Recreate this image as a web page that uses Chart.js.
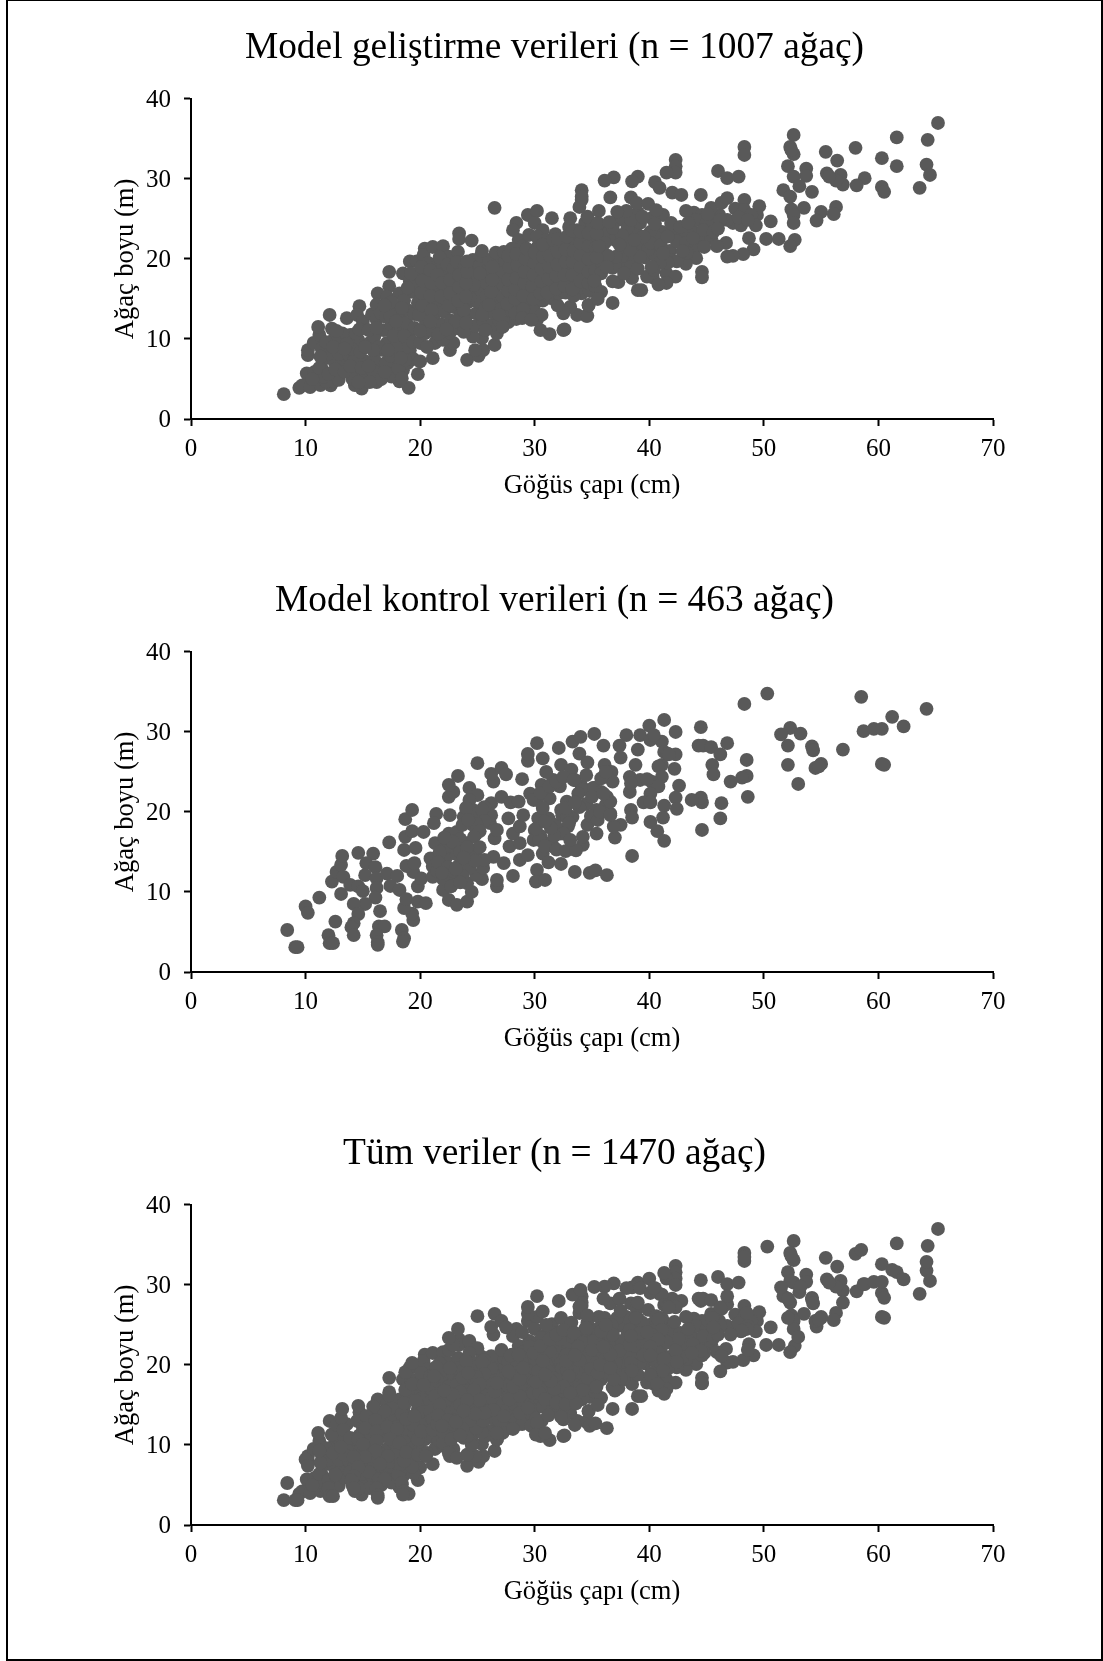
<!DOCTYPE html>
<html lang="tr">
<head>
  <meta charset="UTF-8" />
  <title>Ağaç boyu - göğüs çapı</title>
  <script src="https://cdn.jsdelivr.net/npm/chart.js"></script>
  <style>
    html, body { margin: 0; padding: 0; background: #fff; overflow: hidden; }
    #cerceve {
      position: absolute;
      left: 6px; top: -1px; width: 1093px; height: 1658px;
      border: 2px solid #000;
    }
    canvas { position: absolute; left: 0; display: block; }
  </style>
</head>
<body>
  <div id="cerceve"></div>
  <canvas id="grafik1" width="1103" height="520" style="top:0"></canvas>
  <canvas id="grafik2" width="1103" height="520" style="top:553px"></canvas>
  <canvas id="grafik3" width="1103" height="520" style="top:1106px"></canvas>

  <script>
    // Basliklar
    const titles = [
      'Model geliştirme verileri (n = 1007 ağaç)',
      'Model kontrol verileri (n = 463 ağaç)',
      'Tüm veriler (n = 1470 ağaç)'
    ];
    const xLabel = 'Göğüs çapı (cm)';
    const yLabel = 'Ağaç boyu (m)';
    const xTicks = [0, 10, 20, 30, 40, 50, 60, 70];
    const yTicks = [0, 10, 20, 30, 40];

    // Model gelistirme verileri: [cap, boy]
    const gelistirmeSol = [
      [8.1,3.1],[9.45,3.9],[9.7,4.2],[10.4,4.0],[11.3,4.25],[12.2,4.2],[10.1,5.7],[10.8,5.9],[11.5,6.1],[12.4,4.7],
      [10.2,8],[10.2,8.6],[10.7,9.5],[11.2,10.5],[11.1,11.5],[12.1,13],[12.3,11.3],[11.4,8.8],[11.5,7.4],[13,9.5],
      [13.9,10.5],[14.6,9.9],[13.6,12.6],[14.7,14.1],[14.5,13],[15,12.2],[15.8,13.1],[16.3,15.7],[16.2,14.3],[17.3,18.4],
      [17.3,16.6],[17.1,15.3],[18.2,15.7],[18.5,18.2],[19.1,19.7],[19.7,19.7],[19.3,15.9],[19,3.9],[18.2,4.7],[18.5,6.1],
      [17.5,5.3],[16.2,4.6],[14.9,3.8],[14.3,4.25],[14.5,5.7],[15.3,5.7],[15.2,7.2],[16.5,6.5],[16.8,8.6],[17.1,9.5],
      [15.6,9.5],[16.8,11.1],[17.5,11.75],[16.2,12.4],[16.6,13.2],[18.7,8.2],[19.1,8.6],[18.4,9.25],[18.1,11.1],[18.2,12.8],
      [19.8,5.6],[11,5],[11.8,4.7],[12.8,5.4],[13.1,6.3],[13.4,7],[12.5,7.2],[12.1,8.2],[12.9,8.1],[13.8,8],
      [14.2,7.2],[14,8.8],[14.8,8.4],[13.2,10.7],[12.5,10],[12.7,11],[11.8,9.6],[14.4,10.7],[16,10.3],[16.4,9],
      [16,7.5],[15.9,6],[16.6,5],[17.6,6.8],[17.8,7.8],[17.9,9],[18.9,7],[19.4,7.5],[17.7,10.4],[19,10.5],
      [18.8,12],[19.5,11.4],[18.9,13.6],[19.5,13.1],[19.8,14.5],[17.9,13.7],[17.5,14.6],[17,12.8],[18.6,14.8],[19.1,17.2],
      [19.7,16.6],[19.9,18],[19.2,18.2],[18.9,16.4],[12.9,4.9],[11.6,5.3],[17,7],[17.4,7.9],[18.1,6.3],[14.1,5],
      [10.6,5],[11.2,6.4],[12,5.6],[12.6,6.2],[13.4,5.9],[13.9,6.6],[14.9,6.4],[15.5,6.6],[15.6,4.6],[14.6,4.6],
      [16.9,5.9],[18.4,5.1],[18.7,7.4],[18.3,7.6],[17.2,8.6],[15.9,8.6],[15.2,9],[14.7,11.2],[15.5,11.1],[16.2,11.4],
      [17.4,12.9],[18.6,10.4],[19.4,9.6],[18.4,13.9],[17.9,12.2],[16.9,14.2],[13.6,9.4],[12.4,9],[11.3,7.8],[13.4,8.8]
    ];
    const gelistirmeOrta = [
      [20,7.2],[20,9.5],[20.4,10.7],[20.4,21.3],[20.3,20.5],[21.1,21.5],[22,21.6],[22.5,20.3],[23.3,20.9],[23.4,23.2],
      [23.4,22.5],[24.5,22.3],[26.5,26.4],[24.1,7.4],[25.1,7.9],[25.5,8.6],[24.8,8.6],[26.5,9.25],[26.7,10.7],[25.4,10.1],
      [24.6,10.3],[22.6,8.6],[22.9,9.5],[21.1,7.6],[21.3,9.5],[22,9.9],[28.4,24.5],[28.1,23.6],[28.6,22.4],[29.4,25.5],
      [30.2,26],[30,24.5],[31.5,25.1],[31.8,23.1],[30.7,23.6],[34.1,28.6],[34.1,27.4],[33.9,26.5],[33.1,25.1],[34.1,27.8],
      [33.4,22.4],[32.5,11.1],[31.3,10.6],[30.5,11.1],[30.2,12.4],[34.5,12.9],[33.7,13],[34.7,14.25],[32.5,13.2],[33.1,14],
      [32.6,11.2],[32.5,13.4],[34.6,12.9],[34.1,15.7],[34.7,14.2],
      [20.5,12],[20.3,13.5],[20.6,15],[20.5,16.7],[20.8,18.2],[20.7,19.5],[21,11],[21.2,12.8],[21.4,14.3],[21.5,16],
      [21.6,17.5],[21.4,19],[21.7,20.2],[21.9,11.8],[22.1,13.4],[22.2,15],[22.3,16.6],[22.1,18.2],[22.4,19.3],[22.6,10.8],
      [22.7,12.3],[22.9,14],[23,15.6],[23,17.3],[22.9,18.8],[23.2,19.6],[23.4,11.3],[23.5,12.9],[23.6,14.5],[23.8,16.2],
      [23.7,17.8],[23.9,19.1],[24.1,13],[24.2,14.6],[24.4,15.8],[24.4,17.2],[24.5,18.6],[24.6,19.9],[24.8,11.6],[24.9,13.2],
      [25,14.7],[25.1,16.3],[25.1,17.8],[25.2,19.2],[25.3,20.4],[25.5,12.4],[25.7,13.9],[25.8,15.4],[25.8,17],[25.9,18.5],
      [26,19.9],[26.3,11.8],[26.4,13.3],[26.5,14.9],[26.5,16.4],[26.6,18],[26.7,19.4],[26.6,20.8],[26.9,12.3],[27.1,13.8],
      [27.2,15.3],[27.2,16.9],[27.3,18.3],[27.4,19.8],[27.3,20.9],[27.7,12.1],[27.9,13.5],[27.9,15],[28,16.6],[28,18.2],
      [28.1,19.6],[28,21.3],[28.4,12.5],[28.6,14],[28.7,15.5],[28.7,17],[28.8,18.6],[28.9,20.1],[29,21.6],[29.2,13.3],
      [29.3,14.8],[29.4,16.4],[29.5,18],[29.6,19.5],[29.6,21],[29.5,23],[29.9,13.9],[30,15.4],[30.1,16.9],[30.2,18.5],
      [30.3,20],[30.3,21.6],[30.2,22.8],[30.6,13],[30.7,14.8],[30.8,16.3],[30.9,17.9],[31,19.4],[31,21],[31,22.4],
      [31.4,15.1],[31.5,16.7],[31.6,18.2],[31.6,19.8],[31.7,21.4],[32,14.2],[32.1,15.7],[32.2,17.3],[32.3,18.9],[32.3,20.5],
      [32.4,22],[32.7,15.8],[32.8,17.4],[32.9,19],[33,20.6],[33,24],[33.4,15.4],[33.5,17],[33.6,18.6],[33.7,20.2],
      [33.7,21.8],[33.7,23.6],[34.1,16.5],[34.2,18],[34.3,19.6],[34.4,21.2],[34.3,22.8],[34.4,24.5],[34.8,16],[34.9,17.6],
      [35,19.2],[35,20.8],[35,22.4],[35,24],[34.6,25.3]
    ];
    const gelistirmeYogun = [
      [23.1,12.2],[23.8,13.6],[24.3,15.2],[24.7,16.8],[25.2,18.2],[25.4,13],[26,14.3],[26.2,15.9],[26.3,17.4],[26.3,19],
      [26.9,13],[27.6,14.4],[27.7,16],[27.7,17.4],[27.8,19],[27.7,20.4],[28.3,13.2],[28.3,15],[28.3,16.2],[28.4,17.6],
      [28.5,19.2],[28.4,20.6],[29,13.7],[29,15.4],[29.1,17],[29.1,18.4],[29.2,20],[29.3,21.3],[29.9,15],[29.8,16.6],
      [29.9,18],[30,19.5],[30,20.8],[30.5,15.7],[30.6,17.2],[30.6,18.8],[30.7,20.3],[30.7,21.8],[31.1,15.8],[31.2,17.5],
      [31.3,19],[31.3,20.4],[31.6,22.4],[31.9,16.3],[31.9,17.9],[32,19.3],[32,20.9],[32,22.5],[32.6,16.6],[32.6,18],
      [32.7,19.7],[32.7,21.2],[32.8,22.8],[33.3,16.2],[33.3,18],[33.3,19.6],[33.4,21],[33.3,23.5],[34,17.2],[34,19],
      [34,20.5],[34,22],[34,23.4],[34.7,17],[34.7,18.4],[34.7,20],[34.7,21.6],[34.7,23.2],[35.3,16.6],[35.3,18.6],
      [35.3,21.4],[35.8,23.6],[20,11],[19.9,13],[20.2,14.2],[20.1,15.8],[20.2,17.3],[20.1,19],[21,13.6],[20.9,15.4],
      [21,17],[20.9,18.6],[21.5,18],[21.8,15.3],[21.9,17],[22.5,14.2],[22.6,15.7],[22.6,17.4],[23.3,14.8],[23.4,16.5],
      [23.4,18],[24,15.3],[24,17],[24.1,18.4],[24.1,19.7],[25.4,21],[36.4,23.2],[37,22.4],[37.7,21],[38.1,22.4],
      [38.9,21.6],[39.3,22],[37.5,19.5],[38.6,20],[39.6,20.2],[40.5,20.5],[41.1,23.4],[41.8,21],[42,23.5],[42.5,23],
      [43,23.2],[38.8,23.4],[37.7,25],[39,25.8],[40.2,25.1],[38,25.3],[36,20.8],[36.8,18.9],[35.9,19.4],[37,19.1],
      [20.6,9],[21.6,10.6],[22.3,11.2],[20.9,12.2],[23.8,10.9],[24,12],[25.7,11.1],[27.2,11.5],[28.9,12.6],[29.7,12.4],
      [37.6,20.4],[38.4,19],[39.9,21.2],[40.7,22.6],[41.9,19.9],[43.9,23.4],[44.6,22.7],[45.4,22.6],[46.7,22],[44,21.3],
      [42.9,19.8],[41.5,18.2],[38.5,17.6],[37.3,17.1],[40.3,17.7],[47.3,24.5],[46.1,25.5],[43.9,25.8],[45.5,24.6],[44.3,23]
    ];
    const gelistirmeSag = [
      [65.2,37],[64.3,34.9],[61.6,35.2],[58,33.9],[55.4,33.4],[56.4,32.3],[60.3,32.6],[61.6,31.6],[64.2,31.8],[64.5,30.5],
      [63.6,28.9],[60.3,29],[60.5,28.4],[58.8,30.1],[58.1,29.2],[56.9,29.3],[56.7,30.5],[56.3,29.8],[55.5,30.7],[55.7,30.3],
      [52.6,35.5],[52.3,34],[52.6,33.1],[52.4,33.6],[52.1,31.6],[53.7,31.3],[53.7,30.4],[52.6,30.3],[53.1,29.1],[54.2,28.4],
      [51.7,28.6],[52.3,27.8],[52.4,26.2],[53.5,26.4],[52.6,25.5],[52.6,24.5],[55,25.9],[54.6,24.8],[56.3,26.5],[56.1,25.6],
      [50.6,24.7],[50.2,22.5],[51.3,22.5],[52.7,22.4],[52.3,21.6],[48.3,34],[48.3,33],[46,31],[46.8,30.1],[47.8,30.3],
      [42.3,32.4],[42.3,31.6],[42.3,30.8],[41.5,30.8],[36.9,30.2],[36.1,29.8],[39,30.3],[38.5,29.7],[40.5,29.6],[40.9,28.9],
      [36.6,27.7],[42,28.3],[42.8,28],[44.5,28],[38.4,27.7],[38.9,27],[39.9,26.9],[35.6,26],[43.2,26],[45.4,26.4],
      [46.3,27],[46.8,27.6],[48.3,27.4],[49.6,26.6],[47.5,26.3],[48.3,26.1],[49.4,25.5],[48.9,25.5],[49.3,24.2],[48,24.2],
      [46.8,24.9],[46.2,24.9],[44.6,25.5],[44.1,24.9],[45,24.5],[44.7,23.6],[45.6,23.4],[48.7,22.6],[49.1,21.2],[48.2,20.6],
      [47.3,20.4],[46.8,20.3],[45.9,21.6],[44.8,21.5],[44.1,20.1],[43.2,19.4],[42.4,19.7],[41.6,19.5],[44.6,18.4],[44.6,17.7],
      [42.3,17.8],[41.5,17],[40.8,16.8],[39.8,17.8],[39,16.1],[39.3,16.1],[36.8,14.5],[37.8,18.2],[36.8,17.2],[35.8,15.9],
      [40.1,23.4],[39.2,24.5],[40.1,22],[41.2,25.5],[40.6,26.1],[41.9,24.5],[42.7,24],[43.4,24.5],[42.4,22.2],[43.2,22],
      [40.9,19.5],[40.4,18.6],[39,18.8],[40.2,19],[39.2,20.3],[38.3,21.1],[37.1,20.3],[36.1,22],[37.3,24.9],[38.1,23.9],
      [37.6,23],[36.8,23.9],[38.4,24.9],[38,26],[37.2,25.9],[39.5,22.8],[38.7,22.4],[37.4,21.8],[36.4,20.4],[35.8,18.2],
      [36.3,19],[35.4,20.2],[35.6,21.6],[35.4,23.2],[35.5,24.5],[36.5,24.6],[41,21.7],[41.6,22.8],[41.2,20.7],[40.5,24.4],
      [43.8,22.6],[43.3,20.8],[42.9,21],[45.1,25.6],[39.4,25.3],[46,23.8],[47.8,25.2],[48.6,24.9],[35.2,17.3],[35.5,15]
    ];

    // Model kontrol verileri: [cap, boy]
    const kontrolSol = [
      [8.4,5.25],[9.1,3.1],[9.3,3.1],[10,8.2],[10.2,7.4],[11.2,9.3],[12.6,6.3],[12,4.6],[12.1,3.6],[12.4,3.6],
      [12.3,11.3],[12.7,12.5],[13.1,13.4],[13.2,14.5],[13.3,11.9],[13.1,9.75],[13.9,10.9],[14.6,10.7],[15,10.1],[14.6,14.9],
      [15.9,14.8],[15.3,13.6],[16.1,13.1],[15.2,12.1],[16.2,11.7],[16.2,10.5],[17.1,12.3],[18,12],[17.4,10.75],[18.2,10.25],
      [17.3,16.2],[16.1,9.3],[15.2,8.5],[14.2,8.5],[14.6,7.25],[16.5,7.6],[14.2,6.1],[14,5.6],[14.2,4.6],[16.4,5.7],
      [16.9,5.7],[16.2,4.6],[16.3,3.7],[16.3,3.4],[18.4,5.25],[18.6,4.2],[18.5,3.8],[19.4,6.5],[19.3,7.3],[18.6,8],
      [18.8,9.1],[19.8,8.8],[19.8,10.7],[19.4,12.5],[18.8,13.25],[19.5,13.6],[18.6,15.25],[19.6,15.5],[18.7,16.9],[19.3,17.6],
      [18.7,19.1],[19.3,20.25]
    ];
    const kontrolOrta = [
      [20.5,8.6],[20.1,11.7],[20.3,17.5],[21.4,19.75],[21.2,18.6],[20.9,14.2],[21.3,16.1],[21.1,13.2],[21.1,11.9],[22,13.6],
      [22,15.25],[22.5,17.3],[23.2,17.5],[22.6,19.6],[22.5,21.9],[22.9,22.5],[22.5,23.4],[23.3,24.5],[25,26.1],[24.3,23],
      [25,22.1],[24.3,21.5],[24.6,20.25],[23.8,19.4],[25.2,19],[26.1,18.6],[26.2,19.6],[26.2,21.1],[27.1,21.9],[26.4,23.8],
      [26.2,24.75],[27.1,25.5],[27.5,24.7],[26.5,16.7],[26.7,17.75],[24.9,17.3],[24,16.1],[23.2,15.7],[24.9,15.25],[26.4,14.4],
      [24.2,14.4],[23.3,13.2],[22.3,12.1],[22.9,11.1],[22,10.25],[22.5,9],[23.2,8.4],[24.1,8.8],[24.5,10],[24.1,11.1],
      [25.4,11.6],[24.9,12.1],[25.5,13],[24.3,13],[26.7,10.7],[26.7,11.5],[28.1,12],[27.3,13.6],[28.7,14],[29.4,14.6],
      [27.8,15.7],[28.7,16.1],[28.1,17.3],[28.7,18.2],[27.7,19.2],[29,19.6],[27.9,21.2],[28.6,21.3],[28.9,24.1],[29.4,26.4],
      [29.4,27.25],[30.2,28.6],[30.7,26.7],[29.6,22.3],[30.6,23.4],[30.2,21.5],[31.3,21.7],[31.2,19.2],[30,17.75],[29.9,16.5],
      [30.7,14.8],[31.3,16.1],[31.2,13.7],[30.2,12.75],[30.1,11.3],[30.9,11.5],[32.3,13.5],[33.5,12.5],[34.8,12.4],[35.3,12.7],
      [32.1,28],[33.3,28.8],[34,29.4],[35.2,29.75],[33.9,27.3],[34.6,26.2],[32.3,25.9],[33.2,25.3],[32.2,23.2],[31.6,24],
      [34.1,23.2],[35.1,23],[32.8,21.3],[32.3,20.25],[33.3,19.4],[32.9,18.2],[32.2,17.3],[31.6,15.7],[33.1,15.4],[34.2,15.9],
      [34.2,16.9],[34.6,18.4],[35.4,17.3],[34.5,21],[35.4,20.25],[21.5,12.6],[22.3,14.4],[23.5,16.6],[24.6,18.4],[25.6,20.6],
      [25.6,14],[23.7,18.4],[22,11.6],[30.3,19.2],[30.5,17],[31.8,18.4],[33.5,24],[34.5,24.6],[31,25]
    ];
    const kontrolYogun = [
      [24.6,19.8],[24,20.5],[25.4,20.3],[25.6,18.9],[24.9,18.5],[24.2,19],[25.2,17.6],[24.7,16.9],[25.2,15.6],[22.3,15.7],
      [22.8,16.3],[23.2,14.7],[22.1,16.8],[23.5,15],[21.7,15],[21.6,13.7],[22.4,13.1],[23,12.5],[23.7,12],[23.1,12.9],
      [21.9,12.4],[22.7,10.7],[23.5,11.2],[24.1,15.6],[24.8,13.9],[23.8,14.3],[29.9,21.5],[30.5,22.4],[31.3,23.2],[31.9,23.8],
      [32.5,24.4],[33.4,24],[34.2,22.8],[35.2,23],[35.8,22.5],[36.3,21.9],[36.6,19.8],[36.2,20.9],[35,21.9],[33.8,22.3],
      [34.9,19.5],[35.5,19],[33.9,20.6],[32.4,19.6],[32.8,19.4],[33,18.6],[32.5,17.3],[31.7,17],[30.4,16.5],[30.1,17.9],
      [30.9,15.7],[31.9,15.3],[32.7,15.1],[33.6,15.2],[33.1,16.5],[31.4,18],[32.7,20.5],[33.5,21.2],[30.9,18.8],[30.7,20.5]
    ];
    const kontrolSag = [
      [64.2,32.9],[61.2,31.9],[62.2,30.7],[58.5,34.4],[58.7,30.1],[59.6,30.4],[60.3,30.4],[56.9,27.8],[60.3,26],[60.5,25.9],
      [50.3,34.8],[48.3,33.5],[52.3,30.5],[51.5,29.7],[53.2,29.8],[52.1,28.3],[54.2,28.2],[54.3,27.7],[52.1,25.9],[53,23.5],
      [55,26],[54.5,25.5],[54.8,25.7],[44.5,30.6],[44.3,28.3],[44.7,28.3],[45.4,28.1],[46.8,28.6],[46.2,27.2],[45.5,25.9],
      [45.6,24.7],[48.5,26.5],[48.5,24.5],[48.1,24.3],[47.1,23.8],[48.6,21.9],[46.3,21.1],[46.2,19.2],[44.6,17.75],[44.6,21.2],
      [44.5,21.8],[43.7,21.5],[41.3,31.5],[40,30.8],[42.3,30],[39.2,29.6],[40.1,29],[41.1,28.8],[41.3,27.5],[42.3,27.2],
      [42.2,25.4],[41.1,25.9],[40.8,25.7],[41.1,24.4],[42.6,23.3],[42.3,21.8],[42.4,20.4],[41.3,20.8],[41.2,19.3],[40.1,18.75],
      [40.7,17.6],[41.3,16.4],[38.4,20.25],[38.5,19.3],[38.5,14.5],[37.5,18.4],[37,16.8],[36.9,18.2],[38,29.6],[37.4,28.3],
      [37.5,26.8],[39,27.8],[38.8,25.9],[36,28.3],[36.1,25.9],[36.7,25],[36.8,23.8],[38.3,24.4],[38.3,22.5],[39.2,24],
      [40.2,23.8],[40.8,23.2],[40.1,22.3],[39.5,21.2],[40.1,21.2],[36.6,21.3],[36,22.3],[35.7,20],[36.6,19.6],[36.3,12.1],
      [38.4,23.6],[39.8,24.1],[41.6,27.3],[35.8,24.2],[36.2,25],[40.4,29.6],[41.7,27.2]
    ];

    const gelistirme = [...gelistirmeSol, ...gelistirmeOrta, ...gelistirmeYogun, ...gelistirmeSag];
    const kontrol = [...kontrolSol, ...kontrolOrta, ...kontrolYogun, ...kontrolSag];
    const tumVeriler = [...gelistirme, ...kontrol];

    // Uc grafik ayni ayarlarla ciziliyor
    function createChart(id, title, points) {
      const ctx = document.getElementById(id).getContext('2d');
      return new Chart(ctx, {
        type: 'scatter',
        data: {
          datasets: [{
            data: points.map(p => ({ x: p[0], y: p[1] })),
            backgroundColor: '#595959',
            borderWidth: 0,
            pointRadius: 6.9
          }]
        },
        options: {
          responsive: false,
          animation: false,
          layout: { autoPadding: false, padding: { left: 116, right: 110, top: 0, bottom: 0 } },
          plugins: {
            legend: { display: false },
            tooltip: { enabled: false },
            title: {
              display: true,
              text: title,
              color: '#000',
              font: { family: '"Liberation Serif", serif', size: 37.4, weight: 'normal' },
              padding: { top: 26, bottom: 28.1 }
            }
          },
          scales: {
            x: {
              type: 'linear',
              min: xTicks[0],
              max: xTicks[xTicks.length - 1],
              afterBuildTicks: s => { s.ticks = xTicks.map(v => ({ value: v })); },
              border: { color: '#000', width: 2 },
              grid: { drawOnChartArea: false, drawTicks: true, tickLength: 7, tickColor: '#000', tickWidth: 2 },
              ticks: { color: '#000', maxRotation: 0, padding: 8, font: { family: '"Liberation Serif", serif', size: 25 } },
              title: {
                display: true, text: xLabel, color: '#000',
                font: { family: '"Liberation Serif", serif', size: 26.5 },
                padding: { top: 4, bottom: 18 }
              },
              afterFit: s => { s.height = 101; }
            },
            y: {
              type: 'linear',
              min: yTicks[0],
              max: yTicks[yTicks.length - 1],
              afterBuildTicks: s => { s.ticks = yTicks.map(v => ({ value: v })); },
              border: { color: '#000', width: 2 },
              grid: { drawOnChartArea: false, drawTicks: true, tickLength: 7, tickColor: '#000', tickWidth: 2 },
              ticks: { color: '#000', padding: 13, labelOffset: 1, font: { family: '"Liberation Serif", serif', size: 25 } },
              title: {
                display: true, text: yLabel, color: '#000',
                font: { family: '"Liberation Serif", serif', size: 26.5 },
                padding: { top: -6, bottom: 0 }
              },
              afterFit: s => { s.width = 75; }
            }
          }
        }
      });
    }

    createChart('grafik1', titles[0], gelistirme);
    createChart('grafik2', titles[1], kontrol);
    createChart('grafik3', titles[2], tumVeriler);
  </script>
</body>
</html>
